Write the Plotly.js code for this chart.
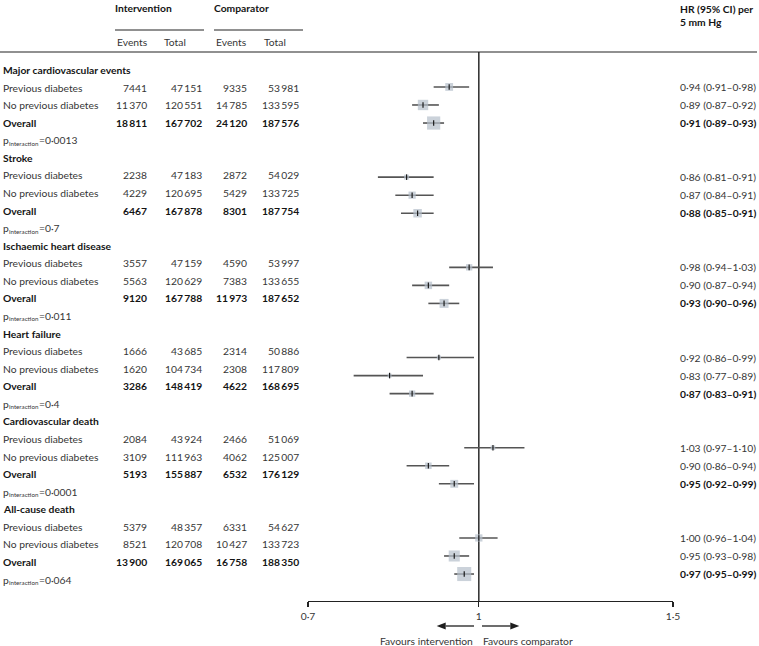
<!DOCTYPE html>
<html>
<head>
<meta charset="utf-8">
<script src="https://cdn.plot.ly/plotly-3.0.1.min.js"></script>
<style>
html,body{margin:0;padding:0;background:#fff;}
#chart{width:759px;height:646px;}
</style>
</head>
<body>
<div id="chart"></div>
<script>
// ---------------- DATA ----------------
const outcomes = ['Major cardiovascular events','Stroke','Ischaemic heart disease','Heart failure','Cardiovascular death','All-cause death'];
const subgroups = ['Previous diabetes','No previous diabetes','Overall'];
const intEvents  = [7441,11370,18811, 2238,4229,6467, 3557,5563,9120, 1666,1620,3286, 2084,3109,5193, 5379,8521,13900];
const intTotal   = [47151,120551,167702, 47183,120695,167878, 47159,120629,167788, 43685,104734,148419, 43924,111963,155887, 48357,120708,169065];
const compEvents = [9335,14785,24120, 2872,5429,8301, 4590,7383,11973, 2314,2308,4622, 2466,4062,6532, 6331,10427,16758];
const compTotal  = [53981,133595,187576, 54029,133725,187754, 53997,133655,187652, 50886,117809,168695, 51069,125007,176129, 54627,133723,188350];
const hr = [0.94,0.89,0.91, 0.86,0.87,0.88, 0.98,0.90,0.93, 0.92,0.83,0.87, 1.03,0.90,0.95, 1.00,0.95,0.97];
const lo = [0.91,0.87,0.89, 0.81,0.84,0.85, 0.94,0.87,0.90, 0.86,0.77,0.83, 0.97,0.86,0.92, 0.96,0.93,0.95];
const hi = [0.98,0.92,0.93, 0.91,0.91,0.91, 1.03,0.94,0.96, 0.99,0.89,0.91, 1.10,0.94,0.99, 1.04,0.98,0.99];
const pInteraction = ['0·0013','0·7','0·011','0·4','0·0001','0·064'];
const tickVals = [0.7, 1, 1.5];
const tickText = ['0·7','1','1·5'];
const refValue = 1;

// ---------------- LAYOUT HELPERS ----------------
const W = 759, H = 646;
const ROW0 = 68.9, ROWH = 18.04, AXIS_PX = 601;      // forest / HR column rows
const LROW0 = 70, LROWH = 17.571;                      // left table rows
const rowOfPx = px => (px - ROW0) / ROWH;
const leftRow = k => rowOfPx(LROW0 + LROWH * k);
const FONT = 'Lato, "Open Sans", sans-serif';
const FS = 10.3, FS_SUB = 6.2;
const C_REG = '#363636', C_BOLD = '#141414';

const ctx = document.createElement('canvas').getContext('2d');
function textWidth(t, size){ ctx.font = size + 'px Lato, "Open Sans", sans-serif'; return ctx.measureText(t).width; }

function fmtInt(n){
  const s = String(n);
  if (n < 10000) return s;
  return s.slice(0, s.length-3) + '\u2009' + s.slice(s.length-3);
}
function fmtD(v){ return v.toFixed(2).replace('.', '·'); }

const ann = [];
function txt(text, px, row, anchor, color, size, yshift){
  ann.push({text:text, x:px/W, xref:'paper', y:row, yref:'y', xanchor:anchor, yanchor:'middle',
    yshift:yshift||0, showarrow:false, borderpad:0, borderwidth:0,
    font:{family:FONT, size:size||FS, color:color||C_REG}});
}
function pLabel(value, px, row){
  const wP = textWidth('p', FS);
  const wSub = textWidth('interaction', FS_SUB);
  txt('p', px, row, 'left', C_REG);
  txt('interaction', px + wP + 0.6, row, 'left', C_REG, FS_SUB, -3);
  txt('=' + value, px + wP + wSub + 1.2, row, 'left', C_REG);
}

// header
txt('<b>Intervention</b>', 115, rowOfPx(8), 'left', C_BOLD);
txt('<b>Comparator</b>', 214, rowOfPx(8), 'left', C_BOLD);
txt('Events', 117, rowOfPx(42), 'left', C_REG);
txt('Total', 164, rowOfPx(42), 'left', C_REG);
txt('Events', 216, rowOfPx(42), 'left', C_REG);
txt('Total', 264, rowOfPx(42), 'left', C_REG);
txt('<b>HR (95% CI) per</b>', 680, rowOfPx(9), 'left', C_BOLD);
txt('<b>5 mm Hg</b>', 680, rowOfPx(22), 'left', C_BOLD);

// body rows
const ys = [];
let r = 0;
outcomes.forEach((o, oi) => {
  txt('<b>' + o + '</b>', 3, leftRow(r), 'left', C_BOLD);
  r++;
  subgroups.forEach((s, si) => {
    const i = oi*3 + si;
    const bold = si === 2;
    const w = t => bold ? '<b>' + t + '</b>' : t;
    const col = bold ? C_BOLD : C_REG;
    const yl = leftRow(r);
    ys.push(r);
    txt(w(s), 3, yl, 'left', col);
    txt(w(fmtInt(intEvents[i])), 147, yl, 'right', col);
    txt(w(fmtInt(intTotal[i])), 202, yl, 'right', col);
    txt(w(fmtInt(compEvents[i])), 247, yl, 'right', col);
    txt(w(fmtInt(compTotal[i])), 299, yl, 'right', col);
    txt(w(fmtD(hr[i]) + ' (' + fmtD(lo[i]) + '–' + fmtD(hi[i]) + ')'), 680, r, 'left', col);
    r++;
  });
  pLabel(pInteraction[oi], 3, leftRow(r));
  r++;
});

// footer labels
const yFav = 1 - 641/H;
ann.push({text:'Favours intervention', x:474/W, y:yFav, xref:'paper', yref:'paper', xanchor:'right', yanchor:'middle',
  showarrow:false, borderpad:0, font:{family:FONT, size:FS, color:C_REG}});
ann.push({text:'Favours comparator', x:482/W, y:yFav, xref:'paper', yref:'paper', xanchor:'left', yanchor:'middle',
  showarrow:false, borderpad:0, font:{family:FONT, size:FS, color:C_REG}});

// arrows drawn as shapes (paper coordinates from pixel layout)
const px2x = px => (px / W).toFixed(5);
const px2y = py => (1 - py / H).toFixed(5);
const AY = 626;
function arrowShapes(tailPx, tipPx){
  const dir = tipPx > tailPx ? 1 : -1;
  const baseX = tipPx - dir * 9;
  return [
    {type:'line', xref:'paper', yref:'paper', x0:tailPx/W, x1:baseX/W, y0:1-AY/H, y1:1-AY/H,
     line:{color:'#1e1e1e', width:1.3}},
    {type:'path', xref:'paper', yref:'paper',
     path:'M' + px2x(tipPx) + ',' + px2y(AY) + ' L' + px2x(baseX) + ',' + px2y(AY - 3.6) +
          ' L' + px2x(baseX) + ',' + px2y(AY + 3.6) + ' Z',
     fillcolor:'#1e1e1e', line:{width:0}}
  ];
}

// ---------------- TRACES ----------------
const ciX = [], ciY = [];
hr.forEach((v, i) => { ciX.push(lo[i], hi[i], null); ciY.push(ys[i], ys[i], null); });
// square side ∝ inverse standard error (inverse-variance weight)
const sizes = hr.map((v, i) => 0.58 / Math.log(hi[i] / lo[i]));

const traces = [
  {type:'scatter', mode:'lines', x:[refValue, refValue], y:[rowOfPx(52), rowOfPx(AXIS_PX)],
   line:{color:'#2a2a2a', width:1.5}, hoverinfo:'skip'},
  {type:'scatter', mode:'lines', x:ciX, y:ciY, line:{color:'#555', width:1.6}, hoverinfo:'skip', connectgaps:false},
  {type:'scatter', mode:'markers', x:hr, y:ys,
   marker:{symbol:'square', size:sizes, color:'#b5bfca', line:{width:0}}, hoverinfo:'skip'},
  {type:'scatter', mode:'markers', x:hr, y:ys,
   marker:{symbol:'line-ns', size:4, line:{color:'#1a1a1a', width:1.2}}, hoverinfo:'skip'}
];

const layout = {
  width:W, height:H,
  margin:{l:0, r:0, t:0, b:0, pad:0},
  paper_bgcolor:'#fff', plot_bgcolor:'rgba(0,0,0,0)',
  showlegend:false,
  font:{family:FONT, size:FS, color:C_REG},
  xaxis:{type:'log', domain:[308/W, 673/W], range:[Math.log10(0.7), Math.log10(1.5)],
    showgrid:false, zeroline:false, showline:true, linecolor:'#222', linewidth:1.3,
    ticks:'outside', ticklen:5, tickwidth:1.3, tickcolor:'#222', ticklabelstandoff:0,
    tickvals:tickVals, ticktext:tickText, tickfont:{family:FONT, size:FS, color:C_REG}, fixedrange:true},
  yaxis:{domain:[1 - AXIS_PX/H, 1], range:[rowOfPx(AXIS_PX), rowOfPx(0)],
    showgrid:false, zeroline:false, showline:false, showticklabels:false, ticks:'', fixedrange:true},
  annotations:ann,
  shapes:[
    {type:'line', xref:'paper', yref:'y', x0:0, x1:757/W, y0:rowOfPx(52), y1:rowOfPx(52), line:{color:'#222', width:1.2}},
    {type:'line', xref:'paper', yref:'y', x0:115/W, x1:204/W, y0:rowOfPx(30), y1:rowOfPx(30), line:{color:'#222', width:1}},
    {type:'line', xref:'paper', yref:'y', x0:214/W, x1:303/W, y0:rowOfPx(30), y1:rowOfPx(30), line:{color:'#222', width:1}}
  ].concat(arrowShapes(474, 436.7), arrowShapes(482, 519.3))
};

Plotly.newPlot('chart', traces, layout, {displayModeBar:false, staticPlot:true});
</script>
</body>
</html>
